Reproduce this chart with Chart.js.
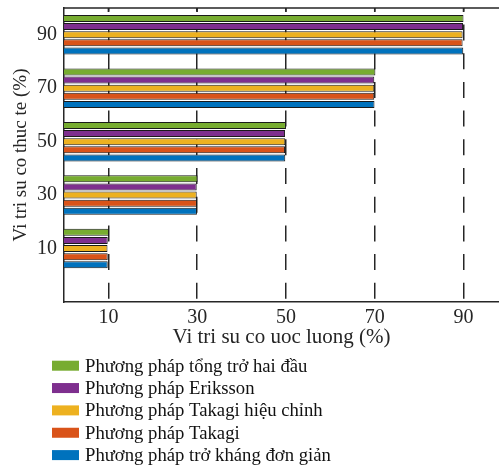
<!DOCTYPE html>
<html>
<head>
    <title>Vi tri su co</title>
    <style>
        body{
            margin: 0;
            background: white;
            overflow: hidden;
        }
    </style>
</head>
<body>
<canvas id="chart" width="499" height="467"></canvas>

<script src="https://cdn.jsdelivr.net/npm/chart.js@4.4.1/dist/chart.umd.min.js"></script>
<script>

    // actual fault location (%) - y axis categories
    const categories = [10, 30, 50, 70, 90];
    const xTicks = [10, 30, 50, 70, 90];

    // estimated fault location (%) per method
    const tongTroHaiDau = [10.15, 30.1, 50.0, 70.15, 90.0];
    const eriksson = [9.85, 29.9, 49.8, 69.9, 89.9];
    const takagiHieuChinh = [9.8, 29.9, 49.85, 69.9, 89.8];
    const takagi = [9.85, 29.95, 49.8, 69.9, 89.8];
    const troKhangDonGian = [9.85, 29.95, 49.85, 69.95, 89.95];

    const labels = [
        "Phương pháp tổng trở hai đầu",
        "Phương pháp Eriksson",
        "Phương pháp Takagi hiệu chỉnh",
        "Phương pháp Takagi",
        "Phương pháp trở kháng đơn giản"
    ];
    const colors = ["#77AC30", "#7E2F8E", "#EDB120", "#D95319", "#0072BD"];

    const axisColor = "#262626";
    const serif = "'Liberation Serif', 'DejaVu Serif', serif";

    function toPoints(values){
        return values.map((v, i) => ({x: v, y: categories[i]}));
    }

    const series = [tongTroHaiDau, eriksson, takagiHieuChinh, takagi, troKhangDonGian];

    // top box line with inward ticks, plus legend rows under the axes
    const boxAndLegend = {
        id: "boxAndLegend",
        afterDatasetsDraw(chart) {
            const ctx = chart.ctx;
            const area = chart.chartArea;
            const xs = chart.scales.x;
            ctx.save();
            ctx.strokeStyle = axisColor;
            ctx.lineWidth = 1.5;
            ctx.beginPath();
            ctx.moveTo(area.left - 0.75, area.top);
            ctx.lineTo(area.right, area.top);
            xTicks.forEach(t => {
                const px = xs.getPixelForValue(t);
                ctx.moveTo(px, area.top);
                ctx.lineTo(px, area.top + 4);
            });
            ctx.stroke();
            ctx.restore();
        },
        afterDraw(chart) {
            const ctx = chart.ctx;
            ctx.save();
            ctx.font = "18.7px " + serif;
            ctx.textBaseline = "middle";
            ctx.textAlign = "left";
            chart.data.datasets.forEach((ds, i) => {
                const cy = 365.7 + i * 22.35;
                ctx.fillStyle = ds.backgroundColor;
                ctx.fillRect(52, cy - 5, 27, 10);
                ctx.fillStyle = "#111";
                ctx.fillText(ds.label, 85, cy + 1);
            });
            ctx.restore();
        }
    };

    const chart = new Chart("chart", {
        type: "bar",
        data: {
            datasets: series.map((s, i) => ({
                label: labels[i],
                data: toPoints(s),
                backgroundColor: colors[i],
                borderColor: "#1a1a1a",
                borderWidth: 1,
                categoryPercentage: 0.76,
                barPercentage: 0.86
            }))
        },
        options: {
            indexAxis: "y",
            responsive: false,
            animation: false,
            layout: {
                padding: {left: 0, top: 8, right: 0, bottom: 115}
            },
            plugins: {
                legend: { display: false },
                tooltip: { enabled: false }
            },
            scales: {
                x: {
                    type: "linear",
                    position: "bottom",
                    min: 0,
                    max: 98,
                    afterBuildTicks: s => { s.ticks = xTicks.map(v => ({value: v})); },
                    afterFit: s => { s.height = 50; s.paddingLeft = 0; s.paddingRight = 0; },
                    grid: {
                        color: axisColor,
                        lineWidth: 1.5,
                        drawTicks: false
                    },
                    border: {
                        display: true,
                        color: axisColor,
                        width: 1.5,
                        dash: [16, 12.7],
                        dashOffset: 12.2
                    },
                    ticks: {
                        color: axisColor,
                        font: {family: serif, size: 20},
                        padding: 4,
                        maxRotation: 0
                    },
                    title: {
                        display: true,
                        text: "Vi tri su co uoc luong (%)",
                        color: axisColor,
                        font: {family: serif, size: 21},
                        padding: {top: 0, bottom: 2}
                    }
                },
                y: {
                    type: "linear",
                    position: "left",
                    offset: false,
                    min: -10,
                    max: 100,
                    afterBuildTicks: s => { s.ticks = categories.map(v => ({value: v})); },
                    afterFit: s => { s.width = 64; s.paddingTop = 0; s.paddingBottom = 0; },
                    grid: {
                        display: false,
                        drawTicks: false,
                        offset: false
                    },
                    border: {
                        display: true,
                        color: axisColor,
                        width: 1.5
                    },
                    ticks: {
                        color: axisColor,
                        font: {family: serif, size: 20},
                        padding: 7
                    },
                    title: {
                        display: true,
                        text: "Vi tri su co thuc te (%)",
                        color: axisColor,
                        font: {family: serif, size: 19},
                        padding: {top: 10, bottom: 0}
                    }
                }
            }
        },
        plugins: [boxAndLegend]
    });

</script>
</body>
</html>
